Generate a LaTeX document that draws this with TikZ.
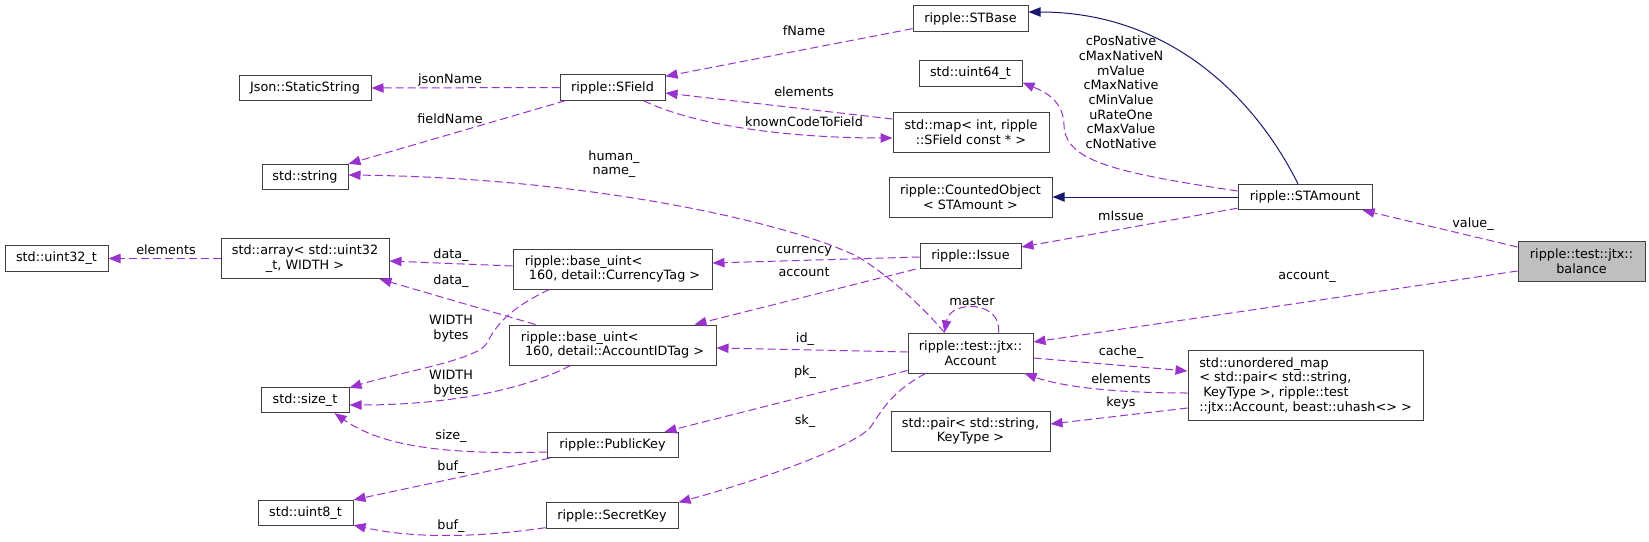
\documentclass[tikz,border=0pt]{standalone}
\usepackage{fontspec}
\setmainfont{DejaVu Sans}
\usepackage{tikz}
\usetikzlibrary{positioning,calc,arrows.meta}
\definecolor{orchid}{HTML}{9A32CD}
\definecolor{navy}{HTML}{191970}
\definecolor{boxgray}{HTML}{BFBFBF}

\begin{document}
\begin{tikzpicture}[x=0.75pt, y=-0.75pt, font=\fontsize{9.6}{11}\selectfont,
	cls/.style={rectangle, draw=black!75, line width=0.75pt, inner sep=0pt, minimum height=19pt, align=center},
	cls2/.style={cls, minimum height=30pt},
	usage/.style={draw=orchid, line width=0.75pt, dash pattern=on 6pt off 3pt, -{Triangle[length=9pt,width=7pt]}},
	inh/.style={draw=navy, line width=0.75pt, -{Triangle[length=9pt,width=7pt]}},
	lbl/.style={inner sep=0pt, align=center}]
		\useasboundingbox (0,0) rectangle (1649,542);
		
		% left column
		\node [cls, minimum width=77.25pt] (u32) at (56.5,258.5) {std::uint32\_t};
		\node [cls, minimum width=99pt] (js) at (305,88) {Json::StaticString};
		\node [cls, minimum width=64.5pt] (str) at (305,177) {std::string};
		\node [cls2, minimum width=126pt] (arr) at (305,258.5) {std::array< std::uint32\\\_t, WIDTH >};
		\node [cls, minimum width=66pt] (szt) at (305,400) {std::size\_t};
		\node [cls, minimum width=71.25pt] (u8) at (305.5,513) {std::uint8\_t};
		
		\node [cls, minimum width=78.75pt] (sf) at (612.5,87.5) {ripple::SField};
		\node [cls2, minimum width=149.25pt, align=left] (cur) at (612.5,269) {ripple::base\_uint<\\~160, detail::CurrencyTag >};
		\node [cls2, minimum width=155.25pt, align=left] (aid) at (612.5,345) {ripple::base\_uint<\\~160, detail::AccountIDTag >};
		\node [cls, minimum width=98.25pt] (pub) at (612.5,445) {ripple::PublicKey};
		\node [cls, minimum width=99pt] (sec) at (612,515.5) {ripple::SecretKey};
		
		% middle column
		\node [cls, minimum width=86.25pt] (stb) at (970.5,18.5) {ripple::STBase};
		\node [cls, minimum width=77.25pt] (u64) at (970.5,73.5) {std::uint64\_t};
		\node [cls2, minimum width=117pt] (smap) at (971,132) {std::map< int, ripple\\::SField const * >};
		\node [cls2, minimum width=122.25pt] (cnt) at (970.5,197) {ripple::CountedObject\\< STAmount >};
		\node [cls, minimum width=75.75pt] (iss) at (970.5,256) {ripple::Issue};
		\node [cls2, minimum width=93.75pt] (acc) at (970.5,353) {ripple::test::jtx::\\Account};
		\node [cls2, minimum width=119.25pt] (pr) at (970.5,431) {std::pair< std::string,\\KeyType >};
		
		% right
		\node [cls, minimum width=100.5pt] (sta) at (1305,197) {ripple::STAmount};
		\node [cls, minimum width=176.25pt, minimum height=52pt, align=left] (umap) at (1305.5,385.5) {std::unordered\_map\\< std::pair< std::string,\\~KeyType >, ripple::test\\::jtx::Account, beast::uhash<> >};
		\node [cls2, minimum width=95.25pt, fill=boxgray] (bal) at (1581.5,261) {ripple::test::jtx::\\balance};
		
		% connectors
		\draw [usage] (sf.west) -- (js.east);
		\draw [usage] ($(sf.south west)+(6,0)$) -- (str.north east);
		\draw [usage] ($(stb.south west)+(0,-3)$) -- ($(sf.north east)+(0,2)$);
		\draw [usage] ($(smap.west)+(0,-13)$) -- ($(sf.east)+(0,5.5)$);
		\draw [usage] ($(sf.south east)+(-22,0)$) .. controls (700,128) and (800,138) .. ($(smap.west)+(0,6)$);
		\draw [inh] ($(sta.north)+(-7,0)$) .. controls (1252,92) and (1165,12) .. ($(stb.east)+(0,-6.5)$);
		\draw [usage] ($(sta.west)+(0,-6)$) .. controls (1110,172) and (1065,160) .. (1064,125) .. controls (1063,100) and (1045,92) .. ($(u64.east)+(0,9)$);
		\draw [inh] (sta.west) -- (cnt.east);
		\draw [usage] ($(sta.south west)+(0,-2)$) -- ($(iss.east)+(0,-9)$);
		\draw [usage] ($(bal.west)+(0,-14)$) -- ($(sta.south east)+(-10,0)$);
		\draw [usage] ($(bal.west)+(0,10)$) -- ($(acc.east)+(0,-11)$);
		\draw [usage] ($(acc.north)+(-26,0)$) .. controls (925,310) and (895,280) .. (860,258) .. controls (800,226) and (600,178) .. ($(str.east)+(0,-2)$);
		\draw [usage] ($(iss.west)+(0,1)$) -- ($(cur.east)+(0,-6)$);
		\draw [usage] ($(iss.south west)+(-4,0)$) -- ($(aid.north east)+(-22,0)$);
		\draw [usage] ($(cur.west)+(0,-3)$) -- ($(arr.east)+(0,2.5)$);
		\draw [usage] ($(aid.north west)+(27,0)$) -- ($(arr.south east)+(-10,0)$);
		\draw [usage] ($(cur.south west)+(37,0)$) .. controls (510,308) and (496,325) .. (487,343) .. controls (478,360) and (400,372) .. ($(szt.north east)+(0,1)$);
		\draw [usage] ($(aid.south west)+(62,0)$) .. controls (520,392) and (440,405) .. ($(szt.east)+(0,5)$);
		\draw [usage] ($(pub.west)+(0,7)$) .. controls (440,455) and (380,445) .. ($(szt.south east)+(-15,0)$);
		\draw [usage] ($(pub.south west)+(3,0)$) -- (u8.north east);
		\draw [usage] ($(sec.south west)+(0,-1)$) .. controls (490,536) and (420,540) .. ($(u8.south east)+(0,-1)$);
		\draw [usage] (arr.west) -- (u32.east);
		\draw [usage] ($(acc.north east)+(-35,0)$) .. controls (1002,300) and (950,300) .. ($(acc.north)+(-26,0)$);
		\draw [usage] ($(acc.west)+(0,-1)$) -- ($(aid.east)+(0,3)$);
		\draw [usage] ($(acc.south west)+(0,-3)$) -- ($(pub.north east)+(-14,0)$);
		\draw [usage] ($(acc.south west)+(18,0)$) .. controls (895,390) and (885,405) .. (872,425) .. controls (860,445) and (760,480) .. (sec.north east);
		\draw [usage] ($(acc.east)+(0,5)$) -- ($(umap.west)+(0,-14.5)$);
		\draw [usage] ($(umap.west)+(0,7.5)$) .. controls (1110,393) and (1060,386) .. ($(acc.south east)+(-9,0)$);
		\draw [usage] ($(umap.west)+(0,22.5)$) -- ($(pr.east)+(0,-7)$);
		
		% labels
		\node [lbl] (jst) at (450,80) {jsonName};
		\node [lbl] (strt) at (450,119) {fieldName};
		\node [lbl] (u32t) at (166,250) {elements};
		\node [lbl] (arrt) at (451,255) {data\_};
		\node [lbl] (arrt2) at (451,281) {data\_};
		\node [lbl] (sztt) at (451,328.5) {WIDTH\\bytes};
		\node [lbl] (sztt2) at (451,383.5) {WIDTH\\bytes};
		\node [lbl] (sztt3) at (451,436) {size\_};
		\node [lbl] (u8t) at (451,467) {buf\_};
		\node [lbl] (u8t2) at (451,526) {buf\_};
		\node [lbl] (sft) at (804,31) {fName};
		\node [lbl] (sft2) at (804,92) {elements};
		\node [lbl] (smapt) at (804,122) {knownCodeToField};
		\node [lbl] (strt2) at (614,164) {human\_\\name\_};
		\node [lbl] (curt) at (804,251) {currency};
		\node [lbl] (aidt) at (804,272) {account};
		\node [lbl] (aidt2) at (805,339) {id\_};
		\node [lbl] (pubt) at (805,372) {pk\_};
		\node [lbl] (sect) at (805,421) {sk\_};
		\node [lbl] (acct) at (972,301) {master};
		\node [lbl] (u64t) at (1121,92.5) {cPosNative\\cMaxNativeN\\mValue\\cMaxNative\\cMinValue\\uRateOne\\cMaxValue\\cNotNative};
		\node [lbl] (isst) at (1121,216) {mIssue};
		\node [lbl] (umapt) at (1121,352) {cache\_};
		\node [lbl] (acct2) at (1121,379) {elements};
		\node [lbl] (prt) at (1121,403) {keys};
		\node [lbl] (acct3) at (1307,277) {account\_};
		\node [lbl] (stat) at (1473,224) {value\_};
	\end{tikzpicture}
\end{document}
